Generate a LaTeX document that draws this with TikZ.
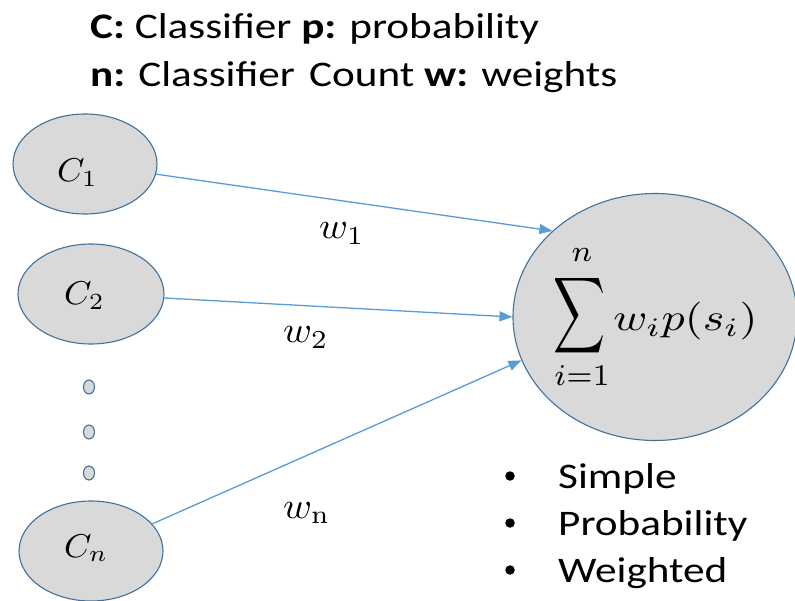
\documentclass[tikz,border=0pt]{standalone}
\usepackage[no-math]{fontspec}
\setmainfont[FakeStretch=1.2]{Carlito}
\usetikzlibrary{shapes.geometric,arrows.meta}
\definecolor{fillc}{HTML}{D9D9D9}
\definecolor{bordc}{HTML}{41719C}
\definecolor{arrc}{HTML}{5B9BD5}
\newcommand{\mth}[3]{\scalebox{#1}[#2]{$#3$}}
\begin{document}
\begin{tikzpicture}[x=1pt,y=-1pt,
  cls/.style={ellipse,draw=bordc,fill=fillc,line width=1.1pt,inner sep=0pt,
    minimum width=144pt,minimum height=100pt},
  dotn/.style={ellipse,draw=bordc,fill=fillc,line width=1.1pt,inner sep=0pt,
    minimum width=11pt,minimum height=14pt},
  conn/.style={draw=arrc,line width=1.3pt,-{Triangle[length=13pt,width=10pt]}},
  txt/.style={anchor=base west,inner sep=0pt,font=\fontsize{36}{43}\selectfont},
  mlab/.style={anchor=base west,inner sep=0pt},
  part/.style={inner sep=0pt},
  bul/.style={inner sep=0pt,circle,fill=black,minimum size=9.5pt}
]
\useasboundingbox (0,0) rectangle (795,601);
% title
\node[txt] (t1) at (90,39) {\textbf{C:} Classifier \textbf{p:} probability};
\node[txt] (t2) at (90,87) {\textbf{n:} Classifier\hspace{14pt}Count \textbf{w:} weights};
% classifier nodes
\node[cls] (c1) at (85,164) {};
\node[cls,minimum width=146pt] (c2) at (91,294) {};
\node[cls] (cn) at (91,551) {};
\node[mlab] (l1) at (57,182) {\mth{3.5}{3.3}{C_1}};
\node[mlab] (l2) at (64,305) {\mth{3.5}{3.3}{C_2}};
\node[mlab] (ln) at (64,557) {\mth{3.5}{3.3}{C_n}};
\node[dotn] (d1) at (89,387) {};
\node[dotn] (d2) at (89,432) {};
\node[dotn] (d3) at (89,473) {};
% sum node
\node[ellipse,draw=bordc,fill=fillc,line width=1.1pt,inner sep=0pt,
  minimum width=284pt,minimum height=247pt] (sum) at (655,317) {};
\node[part] (sig) at (579,315.5) {\resizebox*{52pt}{85pt}{$\displaystyle\sum$}};
\node[part] (up) at (582,255) {\mth{4.3}{4.3}{\scriptstyle n}};
\node[part] (lo) at (582,376) {\mth{4.3}{4.3}{\scriptstyle i=1}};
\node[part] (term) at (685.5,321) {\mth{4.6}{3.8}{w_i p(s_i)}};
% connectors
\draw[conn] (c1) -- (sum.140);
\draw[conn] (c2) -- (sum.180);
\draw[conn] (cn) -- (sum.198);
% weight labels
\node[mlab] (w1) at (319,239) {\mth{3.9}{3.7}{w_1}};
\node[mlab] (w2) at (283,343) {\mth{3.9}{3.7}{w_2}};
\node[mlab] (wn) at (283,518) {\mth{3.9}{3.7}{w_{\mathrm{n}}}};
% bullets
\node[bul] (b1) at (510,476) {};
\node[bul] (b2) at (510,523) {};
\node[bul] (b3) at (510,570) {};
\node[txt] (s1) at (558,488) {Simple};
\node[txt] (s2) at (558,535) {Probability};
\node[txt] (s3) at (558,582) {Weighted};
\end{tikzpicture}
\end{document}
